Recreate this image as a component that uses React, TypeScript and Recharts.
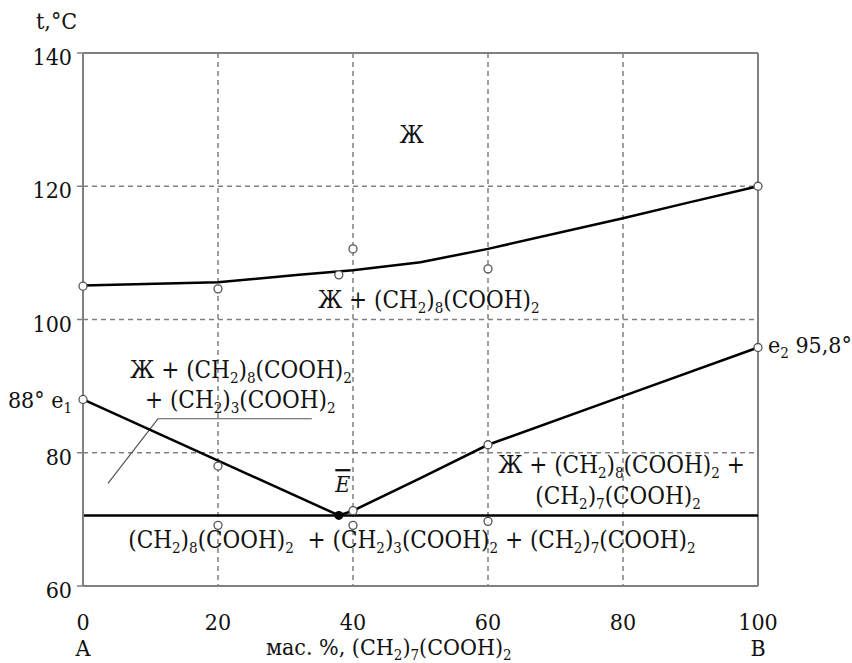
import { ComposedChart, Line, Scatter, XAxis, YAxis, CartesianGrid, ReferenceLine, ReferenceDot } from 'recharts'

const xTicks = [0, 20, 40, 60, 80, 100]
const yTicks = [60, 80, 100, 120, 140]
const xEnds: Record<number, string> = { 0: 'A', 100: 'B' }

// liquidus of (CH2)8(COOH)2
const upperCurve = [
  { x: 0, t: 105.1 }, { x: 20, t: 105.6 }, { x: 32, t: 106.7 }, { x: 40, t: 107.4 },
  { x: 50, t: 108.6 }, { x: 60, t: 110.6 }, { x: 80, t: 115.2 }, { x: 89.5, t: 117.5 },
  { x: 100, t: 120 },
]
const leftBranch = [{ x: 0, t: 88 }, { x: 37.9, t: 70.6 }]
const rightBranch = [
  { x: 37.9, t: 70.6 }, { x: 40, t: 71.3 }, { x: 50, t: 76.2 }, { x: 60, t: 81.2 },
  { x: 80, t: 88.5 }, { x: 100, t: 95.8 },
]
const eutectic = [{ x: 0, t: 70.6 }, { x: 100, t: 70.6 }]
const leader = [{ x: 3.7, t: 75.4 }, { x: 11.1, t: 85.1 }, { x: 33.9, t: 85.1 }]

// measured points
const openPoints = [
  { x: 0, t: 105.0 }, { x: 20, t: 104.6 }, { x: 37.9, t: 106.7 }, { x: 40, t: 110.6 },
  { x: 60, t: 107.6 }, { x: 100, t: 120 },
  { x: 0, t: 88 }, { x: 20, t: 78.0 }, { x: 40, t: 71.3 }, { x: 60, t: 81.2 }, { x: 100, t: 95.8 },
  { x: 20, t: 69.1 }, { x: 40, t: 69.1 }, { x: 60, t: 69.7 },
]
const eutecticPoint = [{ x: 37.9, t: 70.6 }]

const notes = [
  { x: 48.7, t: 126.5, text: 'Ж', anchor: 'middle', size: 24 },
  { x: 34.8, t: 101.7, text: 'Ж + (CH_2)_8(COOH)_2', anchor: 'start', size: 24 },
  { x: 23.4, t: 91.2, text: 'Ж + (CH_2)_8(COOH)_2', anchor: 'middle', size: 24 },
  { x: 23.3, t: 86.7, text: '+ (CH_2)_3(COOH)_2', anchor: 'middle', size: 24 },
  { x: 61.5, t: 76.9, text: 'Ж + (CH_2)_8(COOH)_2 +', anchor: 'start', size: 24 },
  { x: 67.0, t: 72.3, text: '(CH_2)_7(COOH)_2', anchor: 'start', size: 24 },
  { x: 6.7, t: 65.7, text: '(CH_2)_8(COOH)_2  + (CH_2)_3(COOH)_2 + (CH_2)_7(COOH)_2', anchor: 'start', size: 24 },
  { x: 0, t: 88, text: '88° e_1', anchor: 'end', dx: -11, dy: 9 },
  { x: 100, t: 95.8, text: 'e_2 95,8°', anchor: 'start', dx: 10, dy: 6 },
  { x: 45.3, t: 60, text: 'мас. %, (CH_2)_7(COOH)_2', anchor: 'middle', dy: 69 },
  { x: 0, t: 140, text: 't,°C', anchor: 'start', dx: -47, dy: -24 },
]

const FONT = '"DejaVu Serif Condensed", "DejaVu Serif"'
const GRID = '#808080'
const TXT = { fontFamily: FONT, fontStretch: 'condensed' as const }

function Chem({ x, y, text, anchor = 'start', size = 23 }: {
  x: number, y: number, text: string, anchor?: string, size?: number
}) {
  const parts = text.split(/_(\d)/)
  let shift = 0
  return (
    <text x={x} y={y} textAnchor={anchor as any} fill="#111" style={{ ...TXT, whiteSpace: 'pre', fontSize: size }}>
      {parts.map((p, i) => {
        if (p === '') return null
        const sub = i % 2 === 1
        const want = sub ? 5 : 0
        const dy = want - shift
        shift = want
        return <tspan key={i} dy={dy} style={{ fontSize: sub ? 15 : size }}>{p}</tspan>
      })}
    </text>
  )
}

function YTick({ x, y, payload }: any) {
  return (
    <text x={x - 5} y={y + 12} textAnchor="end" fill="#111" style={{ ...TXT, fontSize: 23 }}>
      {payload.value}
    </text>
  )
}

function XTick({ x, y, payload }: any) {
  return (
    <g fill="#111" style={{ ...TXT, fontSize: 23 }}>
      <text x={x} y={y + 44} textAnchor="middle">{payload.value}</text>
      {xEnds[payload.value] && <text x={x} y={y + 70} textAnchor="middle">{xEnds[payload.value]}</text>}
    </g>
  )
}

const openDot = (p: any) => <circle cx={p.cx} cy={p.cy} r={4} fill="#fff" stroke="#555" strokeWidth={1.3} />
const solidDot = (p: any) => <circle cx={p.cx} cy={p.cy} r={4.5} fill="#000" />

export default function App() {
  return (
    <div style={{ position: 'absolute', left: 0, top: 0, width: 852, height: 663, background: '#fff', ...TXT }}>
      <ComposedChart width={852} height={663} margin={{ top: 53, right: 94, bottom: 17, left: 23 }}>
        <CartesianGrid stroke={GRID} strokeWidth={1.5} strokeDasharray="5 4" />
        <XAxis
          type="number" dataKey="x" domain={[0, 100]} ticks={xTicks} height={60}
          axisLine={{ stroke: GRID, strokeWidth: 2 }} tickLine={false} tickSize={0} tickMargin={0}
          tick={<XTick />} interval={0}
        />
        <YAxis
          type="number" dataKey="t" domain={[60, 140]} ticks={yTicks} width={60}
          axisLine={{ stroke: GRID, strokeWidth: 2 }} tickLine={{ stroke: GRID, strokeWidth: 1.5 }}
          tickSize={6} tickMargin={0} tick={<YTick />} interval={0}
        />
        <ReferenceLine y={140} stroke={GRID} strokeWidth={2} />
        <ReferenceLine x={100} stroke={GRID} strokeWidth={2} />

        <Line data={leader} dataKey="t" type="linear" stroke="#555" strokeWidth={1.2} dot={false} isAnimationActive={false} />
        <Line data={eutectic} dataKey="t" type="linear" stroke="#000" strokeWidth={2.5} dot={false} isAnimationActive={false} />
        <Line data={upperCurve} dataKey="t" type="linear" stroke="#000" strokeWidth={2.5} dot={false} isAnimationActive={false} />
        <Line data={leftBranch} dataKey="t" type="linear" stroke="#000" strokeWidth={2.5} dot={false} isAnimationActive={false} />
        <Line data={rightBranch} dataKey="t" type="linear" stroke="#000" strokeWidth={2.5} dot={false} isAnimationActive={false} />

        <Scatter data={openPoints} dataKey="t" shape={openDot} isAnimationActive={false} />
        <Scatter data={eutecticPoint} dataKey="t" shape={solidDot} isAnimationActive={false} />

        {notes.map((n, i) => (
          <ReferenceDot
            key={i} x={n.x} y={n.t} ifOverflow="visible"
            shape={(p: any) => (
              <Chem x={p.cx + (n.dx ?? 0)} y={p.cy + (n.dy ?? 0)} text={n.text} anchor={n.anchor} size={n.size} />
            )}
          />
        ))}
        <ReferenceDot
          x={38.5} y={74.1} ifOverflow="visible"
          shape={(p: any) => (
            <text x={p.cx} y={p.cy} textAnchor="middle" fill="#111"
              style={{ ...TXT, fontSize: 23, fontStyle: 'italic', textDecoration: 'overline' }}>E</text>
          )}
        />
      </ComposedChart>
    </div>
  )
}
